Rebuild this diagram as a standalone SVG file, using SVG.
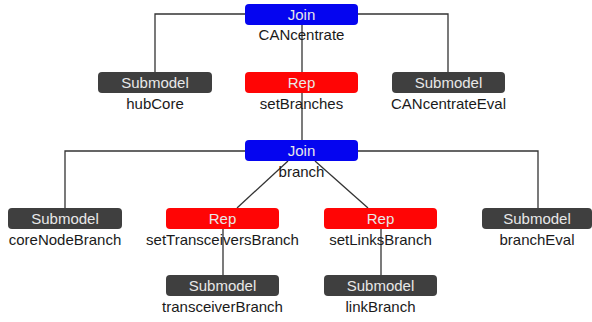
<svg xmlns="http://www.w3.org/2000/svg" width="592" height="322" viewBox="0 0 592 322">
  <style>
    .bg { fill: #ffffff; }
    .edge { fill: none; stroke: #333333; stroke-width: 1.3; }
    .join { fill: #0505f0; }
    .rep { fill: #ff0505; }
    .sub { fill: #3f3f3f; }
    .kind { font-family: "Liberation Sans", Arial, sans-serif; font-size: 15px; fill: #e8e8e8; text-anchor: middle; }
    .name { font-family: "Liberation Sans", Arial, sans-serif; font-size: 15px; fill: #1a1a1a; text-anchor: middle; }
  </style>
  <rect class="bg" x="0" y="0" width="592" height="322"/>

  <g id="connectors">
    <!-- CANcentrate children -->
    <path class="edge" d="M155,72 V14 H448 V72"/>
    <path class="edge" d="M302,25 V140"/>
    <!-- branch children -->
    <path class="edge" d="M65,208 V151 H538 V208"/>
    <path class="edge" d="M288,161 L237,208"/>
    <path class="edge" d="M315,161 L368,208"/>
    <!-- Rep children -->
    <path class="edge" d="M223,229 V275"/>
    <path class="edge" d="M381,229 V275"/>
  </g>

  <g id="CANcentrate">
    <rect class="join" x="245" y="4" width="113" height="21" rx="4"/>
    <text class="kind" x="301.5" y="20">Join</text>
    <text class="name" x="301.5" y="40">CANcentrate</text>
  </g>

  <g id="hubCore">
    <rect class="sub" x="98" y="72" width="114" height="21" rx="4"/>
    <text class="kind" x="155" y="88">Submodel</text>
    <text class="name" x="155" y="109">hubCore</text>
  </g>

  <g id="setBranches">
    <rect class="rep" x="245" y="72" width="113" height="21" rx="4"/>
    <text class="kind" x="301.5" y="88">Rep</text>
    <text class="name" x="301.5" y="109">setBranches</text>
  </g>

  <g id="CANcentrateEval">
    <rect class="sub" x="392" y="72" width="113" height="21" rx="4"/>
    <text class="kind" x="448.5" y="88">Submodel</text>
    <text class="name" x="448.5" y="109">CANcentrateEval</text>
  </g>

  <g id="branch">
    <rect class="join" x="245" y="140" width="113" height="21" rx="4"/>
    <text class="kind" x="301.5" y="156">Join</text>
    <text class="name" x="301.5" y="177">branch</text>
  </g>

  <g id="coreNodeBranch">
    <rect class="sub" x="8" y="208" width="114" height="21" rx="4"/>
    <text class="kind" x="65" y="224">Submodel</text>
    <text class="name" x="65" y="245">coreNodeBranch</text>
  </g>

  <g id="setTransceiversBranch">
    <rect class="rep" x="166" y="208" width="113" height="21" rx="4"/>
    <text class="kind" x="222.5" y="224">Rep</text>
    <text class="name" x="222.5" y="245">setTransceiversBranch</text>
  </g>

  <g id="setLinksBranch">
    <rect class="rep" x="324" y="208" width="113" height="21" rx="4"/>
    <text class="kind" x="380.5" y="224">Rep</text>
    <text class="name" x="380.5" y="245">setLinksBranch</text>
  </g>

  <g id="branchEval">
    <rect class="sub" x="482" y="208" width="110" height="21" rx="4"/>
    <text class="kind" x="537" y="224">Submodel</text>
    <text class="name" x="537" y="245">branchEval</text>
  </g>

  <g id="transceiverBranch">
    <rect class="sub" x="166" y="275" width="113" height="21" rx="4"/>
    <text class="kind" x="222.5" y="291">Submodel</text>
    <text class="name" x="222.5" y="312">transceiverBranch</text>
  </g>

  <g id="linkBranch">
    <rect class="sub" x="324" y="275" width="113" height="21" rx="4"/>
    <text class="kind" x="380.5" y="291">Submodel</text>
    <text class="name" x="380.5" y="312">linkBranch</text>
  </g>
</svg>
